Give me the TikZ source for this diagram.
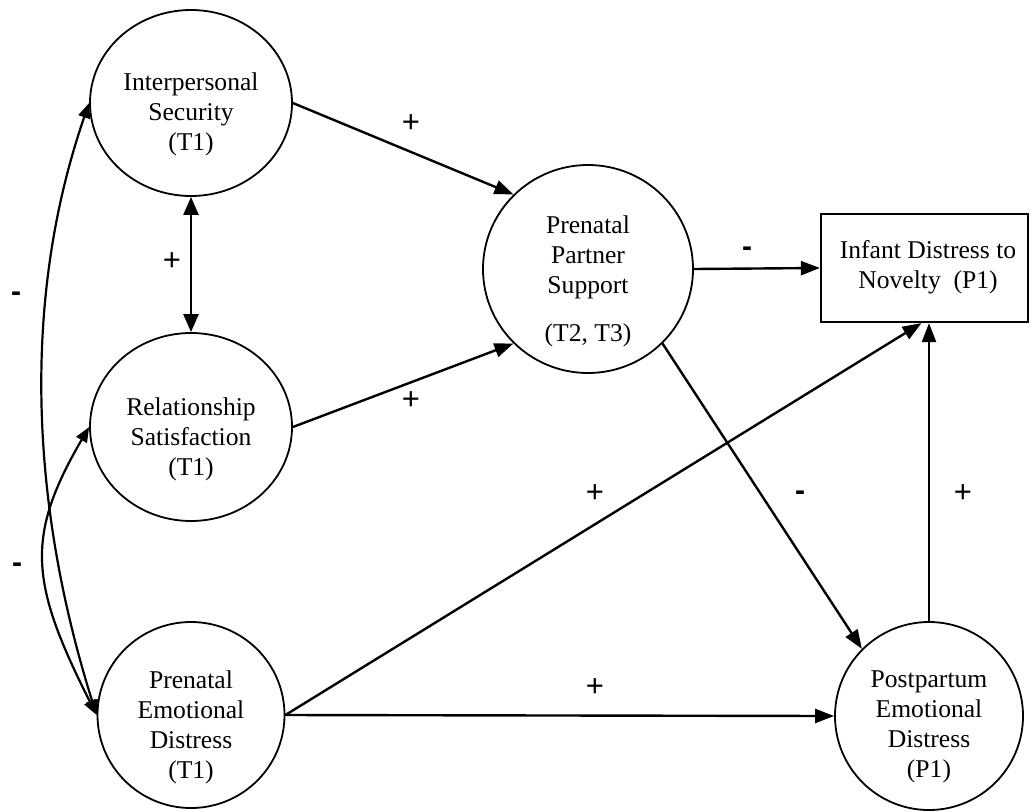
\documentclass[tikz,border=0pt]{standalone}
\usepackage{fontspec}
\setmainfont{Liberation Serif}
\newfontfamily\labelfont{Liberation Sans}
\usetikzlibrary{arrows.meta,shapes.geometric,calc}
\begin{document}
\begin{tikzpicture}[x=1pt,y=-1pt,
  latent/.style={draw, line width=1.8pt, ellipse, inner sep=0pt},
  lbl/.style={font=\fontsize{25.6}{30}\selectfont, align=center, inner sep=0pt},
  sign/.style={font=\labelfont\fontsize{31}{31}\selectfont, inner sep=0pt},
  minus/.style={font=\labelfont\bfseries\fontsize{30}{30}\selectfont, inner sep=0pt},
  conn/.style={line width=2.4pt, -{Triangle[length=19pt,width=14pt]}},
  dconn/.style={line width=2.4pt, {Triangle[length=18pt,width=15pt]}-{Triangle[length=18pt,width=15pt]}},
  cconn/.style={line width=2.2pt, {Triangle[length=15pt,width=12pt]}-{Triangle[length=15pt,width=12pt]}}
]
\useasboundingbox (0,0) rectangle (1032,811);

% shapes
\node[latent, minimum width=202pt, minimum height=186pt] (IS) at (191,103) {};
\node[latent, minimum width=202pt, minimum height=188pt] (RS) at (191,427) {};
\node[latent, minimum width=187pt, minimum height=186pt] (PED) at (191,715) {};
\node[latent, minimum width=210pt, minimum height=208pt] (PPS) at (588,269) {};
\node[latent, minimum width=188pt, minimum height=188pt] (PostED) at (929,716) {};
\node[draw, line width=2.2pt, minimum width=207pt, minimum height=108pt, inner sep=0pt] (IDN) at (924.5,268) {};

% texts
\node[lbl] (IS-t) at ($(IS)+(0,11)$) {Interpersonal\\Security\\(T1)};
\node[lbl] (RS-t) at ($(RS)+(0,12)$) {Relationship\\Satisfaction\\(T1)};
\node[lbl] (PED-t) at ($(PED)+(0,12)$) {Prenatal\\Emotional\\Distress\\(T1)};
\node[lbl] (PPS-t) at ($(PPS)+(0,12)$) {Prenatal\\Partner\\Support\\[18pt](T2, T3)};
\node[lbl] (PostED-t) at ($(PostED)+(0,11)$) {Postpartum\\Emotional\\Distress\\(P1)};
\node[lbl] (IDN-t) at (928,267) {Infant Distress to\\Novelty\ \ (P1)};

% connectors
\draw[dconn] (IS.south) -- (RS.north);
\draw[conn] (IS.east) -- (PPS.135);
\draw[conn] (RS.east) -- (PPS.225);
\draw[conn] (PPS.east) -- (IDN.west);
\draw[conn] (PPS.-45) -- (PostED.135);
\draw[conn] (PED.east) -- (PostED.west);
\coordinate (IDNin) at ($(IDN.south)+(-3,0)$);
\draw[conn] (PED.east) -- (IDNin);
\draw[conn] (PostED.north) -- (PostED.north |- IDN.south);
\draw[cconn] (PED.west) .. controls (32,510) and (20,303) .. (IS.west);
\draw[cconn] (RS.west) .. controls (25,537) and (30,583) .. (PED.west);

% signs
\node[sign] (s1) at (411,124) {+};
\node[sign] (s2) at (172,262) {+};
\node[minus] (s3) at (16,297) {-};
\node[sign] (s4) at (411,401) {+};
\node[minus] (s5) at (747,252) {-};
\node[minus] (s6) at (17,568) {-};
\node[sign] (s7) at (595,494) {+};
\node[minus] (s8) at (800,496) {-};
\node[sign] (s9) at (963,494) {+};
\node[sign] (s10) at (595,688) {+};
\end{tikzpicture}
\end{document}
